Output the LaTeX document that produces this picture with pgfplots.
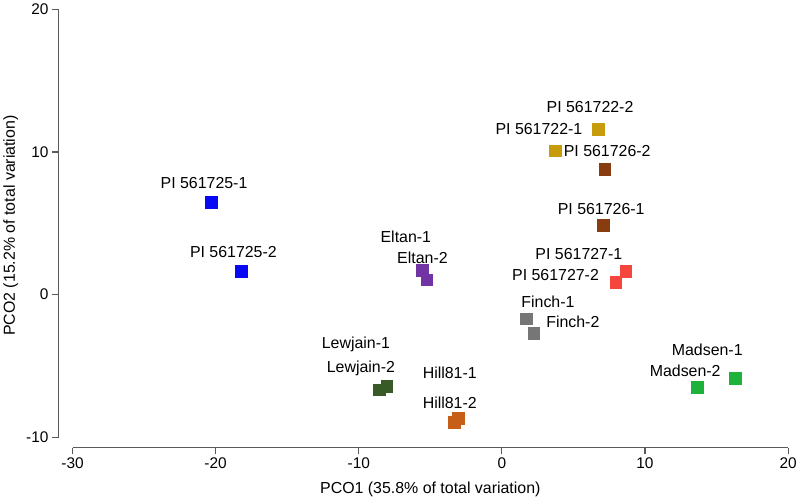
\documentclass[border=0pt]{standalone}
\usepackage{pgfplots}
\pgfplotsset{compat=1.18}
\usepackage{fontspec}
\setmainfont{Liberation Sans}
\definecolor{axgray}{HTML}{5A5A5A}
\definecolor{cBlue}{HTML}{0808F4}
\definecolor{cPurple}{HTML}{7234A4}
\definecolor{cDkGreen}{HTML}{385A27}
\definecolor{cOrange}{HTML}{C65E18}
\definecolor{cGold}{HTML}{C79C0C}
\definecolor{cBrown}{HTML}{873D10}
\definecolor{cRed}{HTML}{F5453D}
\definecolor{cGray}{HTML}{767676}
\definecolor{cGreen}{HTML}{1EB23A}
\pgfplotsset{pt/.style={only marks, mark=square*, mark size=5.85bp, color=#1, mark options={solid, fill=#1, draw=#1, line width=0.1bp}}}
\begin{document}
\begin{tikzpicture}[lbl/.style={anchor=base, yshift=-5.85bp, inner sep=0pt, font=\fontsize{16}{19}\selectfont}]
\begin{axis}[
  scale only axis, width=716.4bp, height=428.2bp,
  xmin=-30, xmax=20, ymin=-10, ymax=20,
  axis lines*=left,
  axis x line shift=10.6bp,
  axis y line shift=14bp,
  axis line style={draw=axgray, line width=1.2bp},
  tick align=outside,
  major tick length=6.5bp,
  xtick={-30,-20,...,20}, ytick={-10,0,10,20},
  tick style={axgray, line width=1.2bp},
  ticklabel style={font=\fontsize{15.5}{18}\selectfont, text=black},
  /pgf/number format/assume math mode=true,
  clip=false,
  xlabel={PCO1 (35.8\% of total variation)},
  ylabel={PCO2 (15.2\% of total variation)},
  every axis x label/.style={at={(axis cs:-5.0,-13.95)}, anchor=base, font=\fontsize{16}{19}\selectfont},
  every axis y label/.style={at={(axis cs:-34.03,4.84)}, rotate=90, anchor=base, font=\fontsize{16}{19}\selectfont},
]
\path (axis cs:-35.045,-14.156) rectangle (axis cs:20.78,20.666);
\addplot[pt=cBlue] coordinates {(-20.32,6.49) (-18.23,1.63)};
\addplot[pt=cPurple] coordinates {(-5.60,1.70) (-5.27,1.05)};
\addplot[pt=cDkGreen] coordinates {(-8.57,-6.66) (-8.06,-6.43)};
\addplot[pt=cOrange] coordinates {(-3.36,-8.92) (-3.06,-8.64)};
\addplot[pt=cGold] coordinates {(6.71,11.63) (3.71,10.11)};
\addplot[pt=cBrown] coordinates {(7.17,8.83) (7.05,4.86)};
\addplot[pt=cRed] coordinates {(8.64,1.63) (7.94,0.86)};
\addplot[pt=cGray] coordinates {(1.71,-1.68) (2.22,-2.68)};
\addplot[pt=cGreen] coordinates {(13.64,-6.50) (16.27,-5.84)};
\node[lbl] at (axis cs:-20.81,7.83) {PI 561725-1};
\node[lbl] at (axis cs:-18.76,3.03) {PI 561725-2};
\node[lbl] at (axis cs:-6.71,4.04) {Eltan-1};
\node[lbl] at (axis cs:-5.55,2.57) {Eltan-2};
\node[lbl] at (axis cs:-10.20,-3.38) {Lewjain-1};
\node[lbl] at (axis cs:-9.85,-5.02) {Lewjain-2};
\node[lbl] at (axis cs:-3.64,-5.49) {Hill81-1};
\node[lbl] at (axis cs:-3.64,-7.55) {Hill81-2};
\node[lbl] at (axis cs:6.16,13.20) {PI 561722-2};
\node[lbl] at (axis cs:2.59,11.63) {PI 561722-1};
\node[lbl] at (axis cs:7.36,10.11) {PI 561726-2};
\node[lbl] at (axis cs:6.94,6.03) {PI 561726-1};
\node[lbl] at (axis cs:5.38,2.87) {PI 561727-1};
\node[lbl] at (axis cs:3.75,1.40) {PI 561727-2};
\node[lbl] at (axis cs:3.22,-0.47) {Finch-1};
\node[lbl] at (axis cs:4.96,-1.91) {Finch-2};
\node[lbl] at (axis cs:14.35,-3.85) {Madsen-1};
\node[lbl] at (axis cs:12.81,-5.30) {Madsen-2};
\end{axis}
\end{tikzpicture}
\end{document}
